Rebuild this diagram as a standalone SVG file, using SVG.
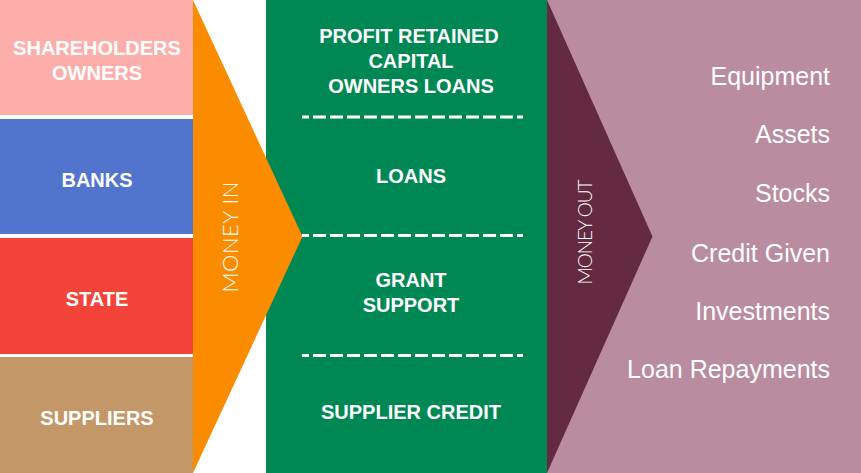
<svg xmlns="http://www.w3.org/2000/svg" width="861" height="473" viewBox="0 0 861 473">
<style>
.cap{font-family:"Liberation Sans",Arial,sans-serif;font-weight:bold;font-size:20px;fill:#ffffff;text-anchor:middle}
.out{font-family:"Liberation Sans",Arial,sans-serif;font-size:25px;fill:#ffffff;text-anchor:end}
.rot{font-family:Lato,"Liberation Sans",sans-serif;font-weight:300;fill:#ffffff;text-anchor:middle}
.dash{stroke:#ffffff;stroke-width:3.2;stroke-dasharray:13 4;stroke-dashoffset:6;fill:none}
</style>
<rect x="0" y="0" width="861" height="473" fill="#ffffff"/>
<g id="sources">
<g id="shareholders"><rect x="0" y="0" width="193" height="115" fill="#fdaeaa"/><text class="cap" x="97" y="55">SHAREHOLDERS</text><text class="cap" x="97" y="80">OWNERS</text></g>
<g id="banks"><rect x="0" y="119" width="193" height="115" fill="#5175cc"/><text class="cap" x="97" y="187">BANKS</text></g>
<g id="state"><rect x="0" y="238" width="193" height="116" fill="#f44338"/><text class="cap" x="97" y="306">STATE</text></g>
<g id="suppliers"><rect x="0" y="357" width="193" height="116" fill="#c39768"/><text class="cap" x="97" y="425">SUPPLIERS</text></g>
</g>
<g id="funds">
<rect x="266" y="0" width="281" height="473" fill="#008854"/>
<g id="profit"><text class="cap" x="409" y="43">PROFIT RETAINED</text><text class="cap" x="411" y="68">CAPITAL</text><text class="cap" x="411" y="93">OWNERS LOANS</text></g>
<g id="loans"><text class="cap" x="411" y="183">LOANS</text></g>
<g id="grant"><text class="cap" x="411" y="287">GRANT</text><text class="cap" x="411" y="312">SUPPORT</text></g>
<g id="supplier-credit"><text class="cap" x="411" y="419">SUPPLIER CREDIT</text></g>
</g>
<g id="money-in"><polygon points="193,0 302.5,236.5 193,473" fill="#fb8c00"/><text class="rot" font-size="22" transform="translate(238,237) rotate(-90)" textLength="111" lengthAdjust="spacing">MONEY IN</text></g>
<g id="connectors">
<line class="dash" x1="302" y1="117" x2="523" y2="117"/>
<line class="dash" x1="302" y1="235.5" x2="523" y2="235.5"/>
<line class="dash" x1="302" y1="355.5" x2="523" y2="355.5"/>
</g>
<g id="uses">
<rect x="547" y="0" width="314" height="473" fill="#b98c9f"/>
<g id="money-out"><polygon points="547,0 652.5,236.5 547,473" fill="#632a41"/><text class="rot" font-size="19" transform="translate(592,232) rotate(-90)" textLength="105" lengthAdjust="spacing">MONEY OUT</text></g>
<text class="out" x="830" y="85">Equipment</text>
<text class="out" x="830" y="143">Assets</text>
<text class="out" x="830" y="202">Stocks</text>
<text class="out" x="830" y="262">Credit Given</text>
<text class="out" x="830" y="320">Investments</text>
<text class="out" x="830" y="378">Loan Repayments</text>
</g>
</svg>
